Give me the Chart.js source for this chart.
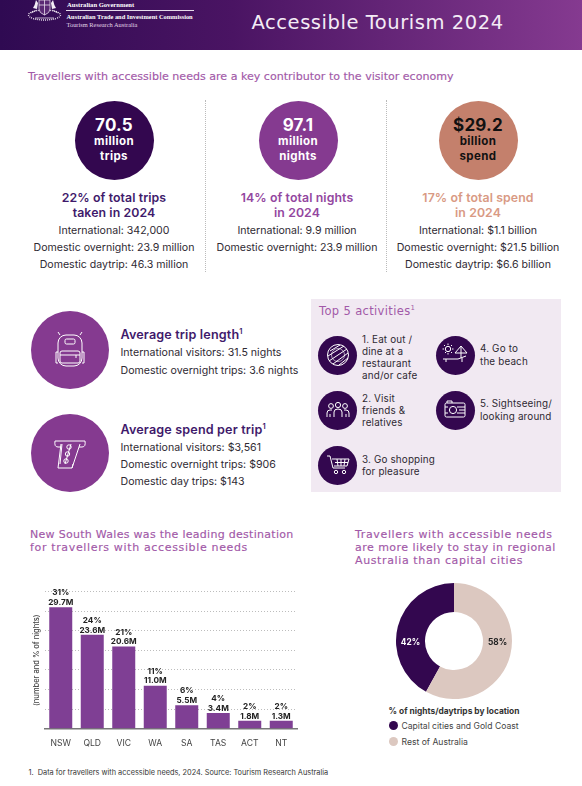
<!DOCTYPE html>
<html>
<head>
<meta charset="utf-8">
<title>Accessible Tourism 2024</title>
<script src="https://cdn.jsdelivr.net/npm/chart.js@4"></script>
<style>
html,body{margin:0;padding:0;background:#fff;}
#page{position:relative;width:582px;height:786px;overflow:hidden;font-family:Inter,sans-serif;color:#2f2a33;}
#header{position:absolute;left:0;top:0;width:582px;height:50px;background:linear-gradient(90deg,#2f0a52 0%,#4a1463 40%,#853a90 100%);}
.t{position:absolute;white-space:nowrap;line-height:1;transform:translateY(-50%);}
.c{transform:translate(-50%,-50%);text-align:center;}
.head{font-family:"DejaVu Sans",sans-serif;color:#a259a8;font-size:11px;-webkit-text-stroke:.15px #a259a8;}
.circle{position:absolute;border-radius:50%;}
.rule{position:absolute;width:0;border-left:1px dotted #bbb;top:100px;height:172px;}
svg{position:absolute;overflow:visible;}
canvas{position:absolute;}
sup{font-size:60%;line-height:0;}
</style>
</head>
<body>
<div id="page">
  <div id="header"></div>
  <svg style="left:27px;top:0" width="36" height="22" fill="none" stroke="#e6dcea" stroke-width=".8">
    <ellipse cx="17.5" cy="15" rx="16" ry="5" stroke-dasharray="1 1" stroke-width="1.4"/>
    <path d="M12 0h11v9q0 4-5.500 6q-5.500-2-5.500-6zM17.500 0v15M12 5h11" fill="#5a2a74"/>
    <path d="M9 0q-1 5-3 8l4 1 1-6zM26 0q1 5 3 8l-4 1-1-6z" fill="#f2ecf4" stroke="none"/>
    <path d="M4 13l6-3M31 13l-6-3M8 18h19"/>
  </svg>
  <div style="position:absolute;left:66px;top:10px;width:128px;height:1px;background:#e6dcea"></div>
  <div class="rule" style="left:205px"></div>
  <div class="rule" style="left:386px"></div>
  <div style="position:absolute;left:311px;top:299px;width:250px;height:193px;background:#f1e9f2"></div>
  <canvas id="barChart" width="272" height="176" style="left:28px;top:575px;width:272px;height:176px"></canvas>
  <canvas id="donutChart" width="116" height="116" style="left:396px;top:583px;width:116px;height:116px"></canvas>
</div>

<script>
/******************* chart data *******************/
const states = ["NSW", "QLD", "VIC", "WA", "SA", "TAS", "ACT", "NT"];
const nightsPct = [31, 24, 21, 11, 6, 4, 2, 2];
const nightsLabel = ["29.7M", "23.6M", "20.6M", "11.0M", "5.5M", "3.4M", "1.8M", "1.3M"];
const yTicksMax = 35;
const yTickStep = 5;

const locations = ["Capital cities and Gold Coast", "Rest of Australia"];
const locationPct = [42, 58];
const locationColours = ["#33074f", "#dcc8c0"];

/******************* page text *******************/
const DARK = "#33074f", PURPLE = "#853a90", CLAY = "#c4806c", BODY = "#2f2a33";

const bigStats = [
  {x: 114, cx: 114, colour: DARK,   text: "#fff", num: "70.5",   unit: "million", what: "trips",
   sub: ["22% of total trips", "taken in 2024"], subCol: "#3f1a6b",
   lines: ["International: 342,000", "Domestic overnight: 23.9 million", "Domestic daytrip: 46.3 million"]},
  {x: 297, cx: 298, colour: PURPLE, text: "#fff", num: "97.1",   unit: "million", what: "nights",
   sub: ["14% of total nights", "in 2024"], subCol: "#9347a0",
   lines: ["International: 9.9 million", "Domestic overnight: 23.9 million"]},
  {x: 478, cx: 478, colour: CLAY,   text: "#111", num: "$29.2",  unit: "billion", what: "spend",
   sub: ["17% of total spend", "in 2024"], subCol: "#d99a84",
   lines: ["International: $1.1 billion", "Domestic overnight: $21.5 billion", "Domestic daytrip: $6.6 billion"]}
];

const averages = [
  {y: 350, title: "Average trip length", titleY: 335, lines: [["International visitors: 31.5 nights", 353], ["Domestic overnight trips: 3.6 nights", 370.5]]},
  {y: 453, title: "Average spend per trip", titleY: 430, lines: [["International visitors: $3,561", 447.5], ["Domestic overnight trips: $906", 465], ["Domestic day trips: $143", 481.5]]}
];

const activities = [
  {x: 337.5, y: 355, tx: 362, ty: 358, lines: ["1. Eat out /", "dine at a", "restaurant", "and/or cafe"], icon: "plate"},
  {x: 337.5, y: 410, tx: 362, ty: 411, lines: ["2. Visit", "friends &", "relatives"], icon: "people"},
  {x: 337.5, y: 465, tx: 362, ty: 466, lines: ["3. Go shopping", "for pleasure"], icon: "cart"},
  {x: 455, y: 355, tx: 480, ty: 355.5, lines: ["4. Go to", "the beach"], icon: "beach"},
  {x: 455, y: 410, tx: 480, ty: 410.5, lines: ["5. Sightseeing/", "looking around"], icon: "camera"}
];

const icons = {
  plate: '<circle r="10.5"/><path d="M-8-4L2-10M-10 1L6-9M-9 6L9-6M-5 9L10-2M1 10L10 3"/><circle r="6.5" stroke-width=".6"/>',
  people: '<circle cx="-7" cy="-4" r="2.4"/><circle cy="-5" r="2.6"/><circle cx="7" cy="-4" r="2.4"/><path d="M-11 7v-4q0-3 3-3h2M11 7v-4q0-3-3-3h-2M-4 7v-5q0-3 4-3t4 3v5M-8 4v3M8 4v3"/>',
  cart: '<path d="M-11-9h3l3 12h12M-6-6H11L9 1H-4M-3-2.5H10M-1-6l1 7M3-6v7M7-6l-1 7"/><circle cx="-2" cy="7" r="1.7"/><circle cx="6" cy="7" r="1.7"/>',
  beach: '<circle cx="-7" cy="-6" r="2.7"/><path d="M-7-11.500v1.500M-7-2v1.500M-12.500-6H-11M-3-6h1.500M-11-10l1 1M-4-3l1 1M-3-10l-1 1M-10-2l1-1"/><path d="M0-2L6-9l6 7zM6-9V3M-12 4H3l8-3M-9 4v3M7 3v4"/>',
  camera: '<rect x="-10" y="-7" width="20" height="14" rx="1.500"/><path d="M-8-7v-2h5v2M2-3h8M4 0h6M2 3h8M-10-3h3M-10 3h3"/><circle cx="-2" r="3.600"/>',
  pack: '<rect x="-12" y="-15" width="24" height="31" rx="8"/><rect x="-10" y="1" width="20" height="12" rx="2"/><rect x="-5" y="-11" width="10" height="5" rx="1.500"/><path d="M-10-15l-2-3M10-15l2-3M-12 2h-2v11h2M12 2h2v11h-2M-10 5h20M6 5v3"/>',
  cash: '<path d="M-15-12q-1 6 3 6h3M15-12q1 6-3 6h-3M-15-12h30M-9-9l-3 24h14l8-24"/><path d="M-8-9L-10 11M-5 11l6-20M2 15l1-4"/><circle cx="-1" cy="-6" r="2.200"/><circle cx="-2.500" cy="1" r="2.200"/><circle cx="-4" cy="8" r="2.200"/>'
};

/******************* draw text + circles *******************/
const page = document.getElementById("page");

function put(str, x, y, css, centre) {
  let d = document.createElement("div");
  d.className = centre ? "t c" : "t";
  d.innerHTML = str;
  d.style.left = x + "px";
  d.style.top = y + "px";
  d.style.cssText += css || "";
  page.appendChild(d);
  return d;
}

function disc(x, y, r, colour) {
  let d = document.createElement("div");
  d.className = "circle";
  d.style.cssText = `left:${x - r}px;top:${y - r}px;width:${r * 2}px;height:${r * 2}px;background:${colour}`;
  page.appendChild(d);
}

function icon(name, x, y, scale) {
  let s = document.createElementNS("http://www.w3.org/2000/svg", "svg");
  s.setAttribute("width", 1);
  s.setAttribute("height", 1);
  s.style.left = x + "px";
  s.style.top = y + "px";
  s.innerHTML = `<g transform="scale(${scale})" fill="none" stroke="#fff" stroke-width="1">${icons[name]}</g>`;
  page.appendChild(s);
}

function heading(str, x, y, css) {
  put(str, x, y, css).classList.add("head");
}

const SERIF = 'font-family:"Liberation Serif",serif;color:#fff;';
put("Australian Government", 67, 4.5, SERIF + "font-size:6.6px;font-weight:bold");
put("Australian Trade and Investment Commission", 66.5, 16.5, SERIF + "font-size:6.4px;font-weight:bold");
put("Tourism Research Australia", 66.5, 25, SERIF + "font-size:6.4px;color:#e0d4e6");
put("Accessible Tourism 2024", 251.5, 22.5, 'font-family:"DejaVu Sans",sans-serif;font-size:19.5px;letter-spacing:.55px;color:#f4ecf6');
heading("Travellers with accessible needs are a key contributor to the visitor economy", 28, 77, "font-size:11.07px");

bigStats.forEach(s => {
  disc(s.cx, 140, 39.5, s.colour);
  put(s.num, s.cx, 124.5, `font-size:17px;letter-spacing:.2px;font-weight:700;color:${s.text}`, true);
  put(s.unit, s.cx, 142.2, `font-size:11.5px;letter-spacing:.4px;font-weight:700;color:${s.text}`, true);
  put(s.what, s.cx, 156.5, `font-size:11.5px;letter-spacing:.4px;font-weight:700;color:${s.text}`, true);
  s.sub.forEach((line, i) => put(line, s.x, 198 + i * 15, `font-size:12.3px;letter-spacing:.1px;font-weight:600;color:${s.subCol}`, true));
  [230.5, 248, 265].forEach((y, i) => {
    if (s.lines[i]) put(s.lines[i], s.x, y, `font-size:10.6px;color:${BODY}`, true);
  });
});

averages.forEach((a, i) => {
  disc(69.5, a.y, 39, PURPLE);
  icon(i == 0 ? "pack" : "cash", 69.5, a.y, 1);
  put(a.title + "<sup>1</sup>", 120.5, a.titleY, "font-size:12.6px;letter-spacing:.15px;font-weight:600;color:#3f1a6b");
  a.lines.forEach(l => put(l[0], 120.5, l[1], `font-size:10.6px;color:${BODY}`));
});

put("Top 5 activities<sup>1</sup>", 319, 312, 'font-family:"DejaVu Sans",sans-serif;font-size:11.5px;letter-spacing:.35px;color:#a259a8');
activities.forEach(a => {
  disc(a.x, a.y, 19.5, DARK);
  icon(a.icon, a.x, a.y, 1);
  a.lines.forEach((line, i) => {
    put(line, a.tx, a.ty + (i - (a.lines.length - 1) / 2) * 12.2, `font-size:9.9px;letter-spacing:.15px;color:${BODY}`);
  });
});

heading("New South Wales was the leading destination", 30, 534, "letter-spacing:.29px");
heading("for travellers with accessible needs", 30, 547, "letter-spacing:.65px");
heading("Travellers with accessible needs", 355, 534, "letter-spacing:.65px");
heading("are more likely to stay in regional", 355, 547, "letter-spacing:.46px");
heading("Australia than capital cities", 355, 560, "letter-spacing:.62px");

put("% of nights/daytrips by location", 388.5, 710.5, "font-size:8.4px;font-weight:700;color:#333");
locations.forEach((name, i) => {
  disc(393, 725 + i * 16.3, 4.5, locationColours[i]);
  put(name, 401.5, 726 + i * 16, "font-size:8.6px;color:#444");
});

put("1.&nbsp; Data for travellers with accessible needs, 2024. Source: Tourism Research Australia", 28.5, 773, "font-size:7.35px;color:#333");

/******************* bar chart *******************/
const barLabels = {
  id: "barLabels",
  afterDatasetsDraw(chart) {
    let ctx = chart.ctx;
    ctx.save();
    ctx.textAlign = "center";
    ctx.textBaseline = "middle";
    ctx.fillStyle = "#222";
    ctx.font = 'bold 8.2px Inter';
    chart.getDatasetMeta(0).data.forEach((bar, i) => {
      ctx.fillText(nightsPct[i] + "%", bar.x, bar.y - 14.4);
      ctx.fillText(nightsLabel[i], bar.x, bar.y - 4.6);
    });
    ctx.restore();
  }
};

new Chart(document.getElementById("barChart"), {
  type: "bar",
  data: {
    labels: states,
    datasets: [{data: nightsPct, backgroundColor: "#7f3f94", categoryPercentage: 1, barPercentage: 0.73}]
  },
  options: {
    responsive: false,
    animation: false,
    layout: {padding: {top: 16.7, left: 0, right: 3, bottom: 0}},
    plugins: {legend: {display: false}, tooltip: {enabled: false}},
    scales: {
      x: {
        grid: {display: false},
        border: {color: "#777", width: 1.5},
        ticks: {color: "#444", font: {size: 8.6, family: "Inter"}, padding: 2, maxRotation: 0}
      },
      y: {
        min: 0,
        max: yTicksMax,
        afterFit: scale => { scale.width = 17; },
        ticks: {display: false, stepSize: yTickStep},
        border: {display: false, dash: [1, 2]},
        grid: {color: "#bdbdbd", lineWidth: 1, drawTicks: false},
        title: {display: true, text: "(number and % of nights)", color: "#444", font: {size: 7.5, family: "Inter", weight: "500"}, padding: {top: 4, bottom: 0}}
      }
    }
  },
  plugins: [barLabels]
});

/******************* doughnut *******************/
const donutLabels = {
  id: "donutLabels",
  afterDatasetsDraw(chart) {
    let ctx = chart.ctx;
    let arcs = chart.getDatasetMeta(0).data;
    let mid = (arcs[0].innerRadius + arcs[0].outerRadius) / 2;
    ctx.save();
    ctx.textAlign = "center";
    ctx.textBaseline = "middle";
    ctx.font = 'bold 8.3px Inter';
    ctx.fillStyle = "#fff";
    ctx.fillText(locationPct[0] + "%", arcs[0].x - mid, arcs[0].y + 2);
    ctx.fillStyle = "#222";
    ctx.fillText(locationPct[1] + "%", arcs[1].x + mid, arcs[1].y + 2);
    ctx.restore();
  }
};

new Chart(document.getElementById("donutChart"), {
  type: "doughnut",
  data: {
    labels: locations,
    datasets: [{data: locationPct, backgroundColor: locationColours, borderWidth: 0}]
  },
  options: {
    responsive: false,
    animation: false,
    cutout: "50%",
    rotation: -151.2,
    plugins: {legend: {display: false}, tooltip: {enabled: false}}
  },
  plugins: [donutLabels]
});
</script>
</body>
</html>
